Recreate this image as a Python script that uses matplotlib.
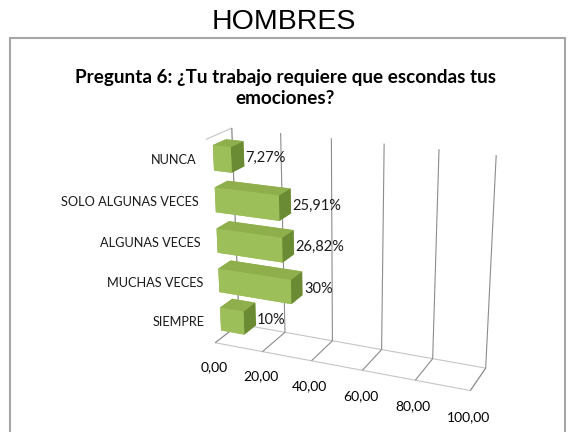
import numpy as np
import matplotlib
matplotlib.use("Agg")
import matplotlib.pyplot as plt
from matplotlib.patches import Rectangle
from mpl_toolkits.mplot3d import proj3d

# ---- data ---------------------------------------------------------------
categories = ["SIEMPRE", "MUCHAS VECES", "ALGUNAS VECES",
              "SOLO ALGUNAS VECES", "NUNCA"]
values = [10.0, 30.0, 26.82, 25.91, 7.27]
value_labels = ["10%", "30%", "26,82%", "25,91%", "7,27%"]
x_ticks = [0, 20, 40, 60, 80, 100]
x_tick_labels = ["0,00", "20,00", "40,00", "60,00", "80,00", "100,00"]

title = "Pregunta 6: ¿Tu trabajo requiere que escondas tus\nemociones?"
header = "HOMBRES"

# Excel style green faces: bottom, top, front, back, left, right
face_colors = ["#9BBB59", "#8FAF4D", "#9DBF5A", "#9BBB59", "#8CAD4C", "#6A8A33"]
label_font = "Lato"

fig = plt.figure(figsize=(5.68, 4.32), dpi=100)

# outer chart frame (cut by the picture edge on the right and bottom)
fig.patches.append(Rectangle((10 / 568, -0.05), 555 / 568, 0.05 + (432 - 38) / 432,
                             transform=fig.transFigure, fill=False,
                             edgecolor="#A6A6A6", linewidth=1.5))

fig.text(0.5, 1 - 22 / 432, header, ha="center", va="center",
         fontsize=20.5, family="Liberation Sans")
fig.text(0.502, 1 - 88 / 432, title, ha="center", va="center",
         fontsize=13.6, fontweight="bold", family=label_font, linespacing=1.35)

ax = fig.add_axes([0.303, 0.02, 0.6, 0.76], projection="3d")
ax.set_proj_type("persp", focal_length=0.6)
ax.view_init(elev=20, azim=-67)
ax.set_box_aspect((2.8, 0.53, 2.2), zoom=1.07)

n = len(categories)
zpos = np.arange(n)
bar_h = 0.6
for z, v in zip(zpos, values):
    ax.bar3d(0, 0.25, z - bar_h / 2, v, 0.5, bar_h,
             color=face_colors, shade=False, edgecolor="none")

ax.set_xlim(0, 100)
ax.set_ylim(0, 1)
ax.set_zlim(-0.5, n - 0.5)

ax.set_xticks(x_ticks)
ax.set_xticklabels(x_tick_labels, fontsize=10, family=label_font)
ax.xaxis.set_tick_params(pad=3)
ax.set_yticks([])
ax.set_zticks([])

for axis in (ax.xaxis, ax.yaxis, ax.zaxis):
    axis.pane.set_facecolor((1, 1, 1, 1))
    axis.pane.set_edgecolor("#8C8C8C")
    axis.pane.set_linewidth(0.8)
    axis.line.set_color((0, 0, 0, 0))
    axis._axinfo["tick"]["inward_factor"] = 0
    axis._axinfo["tick"]["outward_factor"] = 0
ax.yaxis.pane.set_edgecolor((1, 1, 1, 0))
ax.xaxis._axinfo["grid"]["color"] = "#8C8C8C"
ax.xaxis._axinfo["grid"]["linewidth"] = 0.8
for axis in (ax.yaxis, ax.zaxis):
    axis._axinfo["grid"]["color"] = (1, 1, 1, 0)
    axis._axinfo["grid"]["linewidth"] = 0

# labels: project the 3D anchor through the axes' own projection
M = ax.get_proj()


def label3d(x, y, z, s, **kw):
    px, py, _ = proj3d.proj_transform(x, y, z, M)
    ax.text2D(px, py, s, transform=ax.transData, family=label_font,
              color="#1a1a1a", va="center", **kw)


for z, v, lab in zip(zpos, values, value_labels):
    label3d(v + 3, 0.5, z, lab, ha="left", fontsize=10.5)

for z, cat in zip(zpos, categories):
    label3d(-4, 0, z, cat, ha="right", fontsize=9.2)

fig.savefig("out.png", dpi=100)
